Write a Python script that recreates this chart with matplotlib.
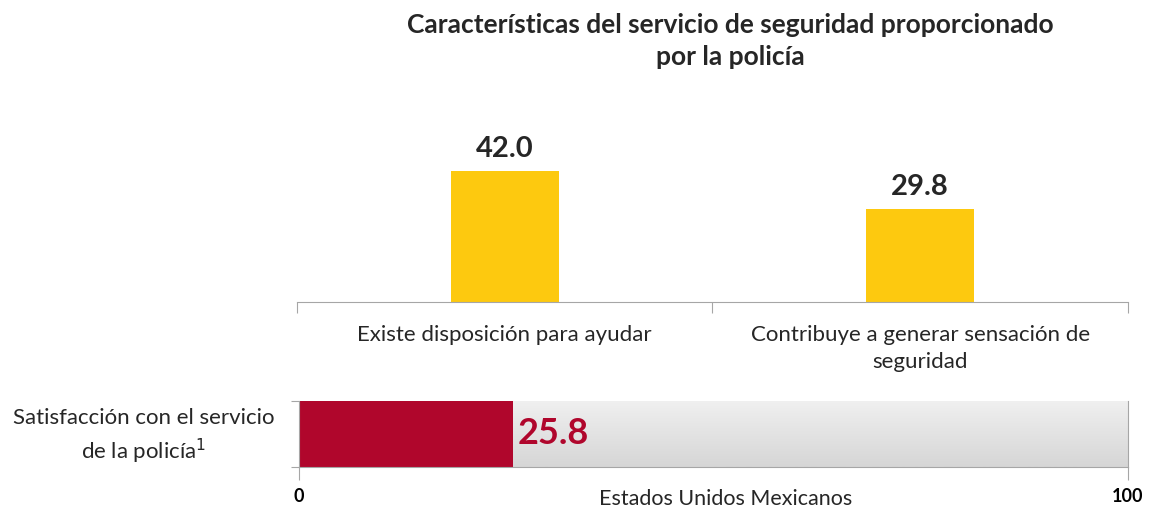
import matplotlib.pyplot as plt
import numpy as np
from matplotlib.colors import LinearSegmentedColormap

plt.rcParams['font.family'] = ['Lato', 'DejaVu Sans']

# data
title = "Características del servicio de seguridad proporcionado\npor la policía"
categories = ["Existe disposición para ayudar",
              "Contribuye a generar sensación de\nseguridad"]
values = [42.0, 29.8]
sat_label = "Satisfacción con el servicio\nde la policía"
sat_value = 25.8
sat_total = 100
xlabel = "Estados Unidos Mexicanos"

yellow = "#FDC90F"
red = "#B0062C"
gray = "#A6A6A6"
txt = "#262626"

fig = plt.figure(figsize=(11.49, 5.08), dpi=100)

# top bar chart
ax = fig.add_axes([0.2585, 0.4055, 0.7232, 0.38])
x = np.arange(len(values))
ax.bar(x, values, width=0.26, color=yellow)
for xi, v in zip(x, values):
    ax.text(xi, v + 3.0, f"{v:.1f}", ha="center", va="bottom",
            fontsize=21, fontweight="bold", color=txt)
ax.set_xlim(-0.5, len(values) - 0.5)
ax.set_ylim(0, 62)
for s in ["top", "right", "left"]:
    ax.spines[s].set_visible(False)
ax.spines["bottom"].set_color(gray)
ax.set_yticks([])
ax.set_xticks(np.arange(-0.5, len(values)))
ax.set_xticklabels([])
ax.tick_params(axis="x", length=8, color=gray)
for xi, c in zip(x, categories):
    ax.text(xi, -0.12, c, transform=ax.get_xaxis_transform(), ha="center",
            va="top", fontsize=16, color=txt, linespacing=1.45)

fig.text(0.636, 0.975, title, ha="center", va="top", fontsize=19,
         fontweight="bold", color=txt, linespacing=1.4)

# bottom satisfaction bar
bx = fig.add_axes([0.2602, 0.0807, 0.7215, 0.130])
grad = LinearSegmentedColormap.from_list("g", ["#D6D6D6", "#F0F0F0"])
bx.imshow(np.linspace(0, 1, 64).reshape(-1, 1), cmap=grad, origin="lower",
          extent=[0, sat_total, -0.5, 0.5], aspect="auto", zorder=1)
bx.barh([0], [sat_value], height=1.0, color=red, zorder=2)
bx.text(sat_value + 0.6, 0, f"{sat_value:.1f}", va="center", ha="left",
        fontsize=26, fontweight="bold", color=red, zorder=3)
bx.set_xlim(0, sat_total)
bx.set_ylim(-0.5, 0.5)
bx.spines["top"].set_visible(False)
for s in ["left", "right", "bottom"]:
    bx.spines[s].set_color(gray)
bx.set_yticks([-0.5, 0.5])
bx.set_yticklabels([])
bx.tick_params(axis="y", length=6, color=gray)
bx.set_xticks([0, sat_total])
bx.set_xticklabels(["0", "100"], fontweight="bold", fontsize=13)
bx.tick_params(axis="x", length=9, color=gray, pad=6)
bx.text(0.515, -0.33, xlabel, transform=bx.transAxes, ha="center", va="top",
        fontsize=15.5, color=txt)
fig.text(0.125, 0.140, sat_label + "$^{1}$", ha="center", va="center",
         fontsize=16, color=txt, linespacing=1.4)

fig.savefig("out.png", dpi=100)
